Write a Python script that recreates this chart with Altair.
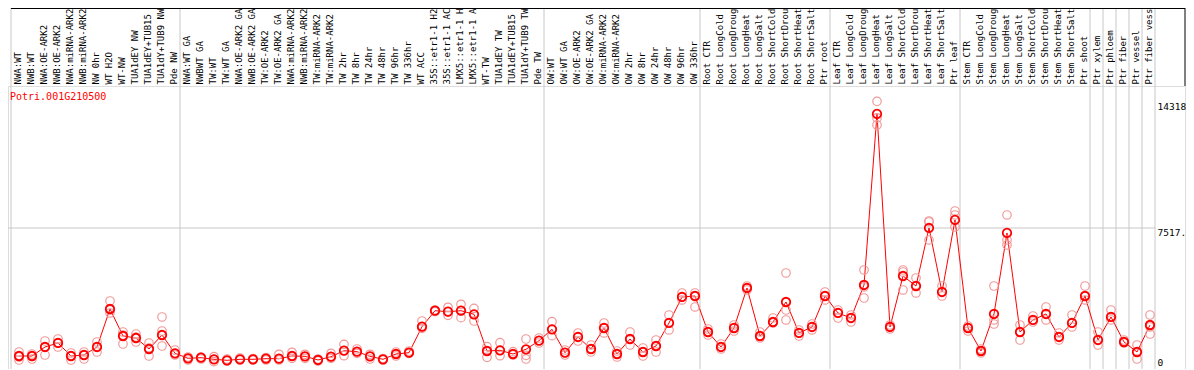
import altair as alt
import pandas as pd

gene_id = "Potri.001G210500"

categories = [
    "NWA:WT", "NWB:WT", "NWA:OE-ARK2", "NWB:OE-ARK2", "NWA:miRNA-ARK2", "NWB:miRNA-ARK2",
    "NW 0hr", "WT H2O", "WT-NW", "TUA1dEY NW", "TUA1dEY+TUB15 NW", "TUA1dY+TUB9 NW", "Pde NW",
    "NWA:WT GA", "NWBWT GA", "TW:WT", "TW:WT GA", "NWA:OE-ARK2 GA", "NWB:OE-ARK2 GA",
    "TW:OE-ARK2", "TW:OE-ARK2 GA", "NWA:miRNA-ARK2", "NWB:miRNA-ARK2", "TW:miRNA-ARK2",
    "TW:miRNA-ARK2", "TW 2hr", "TW 8hr", "TW 24hr", "TW 48hr", "TW 96hr", "TW 336hr",
    "WT ACC", "35S::etr1-1 H2O", "35S::etr1-1 ACC", "LMX5::etr1-1 H2O", "LMX5::etr1-1 ACC",
    "WT-TW", "TUA1dEY TW", "TUA1dEY+TUB15 TW", "TUA1dY+TUB9 TW", "Pde TW",
    "OW:WT", "OW:WT GA", "OW:OE-ARK2", "OW:OE-ARK2 GA", "OW:miRNA-ARK2", "OW:miRNA-ARK2",
    "OW 2hr", "OW 8hr", "OW 24hr", "OW 48hr", "OW 96hr", "OW 336hr",
    "Root CTR", "Root LongCold", "Root LongDrought", "Root LongHeat", "Root LongSalt",
    "Root ShortCold", "Root ShortDrought", "Root ShortHeat", "Root ShortSalt", "Ptr root",
    "Leaf CTR", "Leaf LongCold", "Leaf LongDrought", "Leaf LongHeat", "Leaf LongSalt",
    "Leaf ShortCold", "Leaf ShortDrought", "Leaf ShortHeat", "Leaf ShortSalt", "Ptr leaf",
    "Stem CTR", "Stem LongCold", "Stem LongDrought", "Stem LongHeat", "Stem LongSalt",
    "Stem ShortCold", "Stem ShortDrought", "Stem ShortHeat", "Stem ShortSalt", "Ptr shoot",
    "Ptr xylem", "Ptr phloem", "Ptr fiber", "Ptr vessel", "Ptr fiber vessel",
]

mean_values = [
    644, 644, 1128, 1343, 644, 698, 1128, 3168, 1718, 1611, 1020, 1772,
    789, 521, 553, 467, 413, 467, 467, 499, 499, 644, 628, 430, 607, 929, 875, 628,
    467, 752, 821, 2217, 3076, 3023, 3076, 2883, 913, 950, 752, 1004, 1466, 2078, 821,
    1665, 1020, 2148, 752, 1557, 859, 1181, 2417, 3813, 3866,
    1933, 1128, 2148, 4296, 1718, 2470, 3544, 1880, 2202, 3866,
    2954, 2685, 4457, 13640, 2202, 4940, 4403, 7518, 4081, 7948,
    2148, 913, 2900, 7250, 1933, 2578, 2900, 1665, 2417, 3866,
    1504, 2739, 1396, 859, 2309,
]

rep1_values = [
    859, 752, 1450, 1557, 806, 859, 1396, 3598, 1933, 1826, 1343, 2739,
    966, 591, 591, 607, 483, 537, 510, 564, 736, 843, 736, 483, 789, 1272, 1020, 736,
    510, 859, 913, 2523, 3114, 3259, 3420, 3205, 1144, 1358, 875, 1557, 1611, 2486, 966,
    1880, 1235, 2417, 913, 1933, 1074, 1504, 2846, 4028, 4028,
    2094, 1289, 2309, 4403, 1933, 2685, 5102, 2041, 2363, 4081,
    3114, 2846, 5263, 14318, 2309, 5263, 4833, 7894, 4403, 8431,
    2255, 1020, 4403, 8216, 2309, 2792, 3276, 1880, 2846, 4403,
    1933, 3114, 1504, 1235, 2846,
]

rep2_values = [
    430, 483, 698, 1128, 430, 483, 859, 2954, 1289, 1396, 644, 1987,
    698, 430, 483, 338, 376, 430, 430, 430, 430, 521, 521, 376, 521, 660, 789, 483,
    430, 644, 789, 2131, 3023, 2829, 2701, 2523, 574, 660, 698, 682, 1342, 1734, 698,
    1450, 859, 1880, 591, 1235, 644, 859, 2041, 3652, 3276,
    1772, 1020, 1987, 4189, 1611, 2417, 2578, 1718, 2041, 3652,
    2685, 2470, 3759, 13425, 2094, 4189, 4028, 7840, 3866, 8216,
    1987, 806, 2363, 6874, 1504, 2470, 2578, 1504, 2202, 3652,
    1235, 2578, 1343, 483, 1826,
]

rep3_values = [
    591, 644, 1128, 1343, 644, 698, 1128, 3114, 1772, 1665, 1074, 1181,
    789, 521, 553, 467, 413, 467, 467, 499, 499, 644, 628, 430, 607, 929, 875, 628,
    467, 752, 821, 2217, 3076, 3023, 3076, 2883, 913, 950, 752, 483, 1466, 2078, 821,
    1665, 1020, 2148, 752, 1557, 859, 1181, 2417, 3813, 3866,
    1933, 1128, 2148, 4296, 1718, 2470, 3114, 1880, 2202, 3866,
    2954, 2685, 4350, 13049, 2202, 5155, 4403, 6874, 4081, 7572,
    2148, 913, 2578, 6605, 1933, 2578, 2900, 1665, 2417, 3866,
    1504, 2739, 1396, 859, 2202,
]

group_starts = [0, 13, 41, 53, 63, 73, 83, 84, 85, 86, 87]
y_tick_values = [0, 7517, 14318]
y_tick_labels = ["0", "7517.", "14318"]
y_grid_values = [7517]

n = len(categories)
idx = list(range(n))
means_df = pd.DataFrame({"idx": idx, "value": mean_values})
reps_df = pd.DataFrame({
    "idx": idx * 3,
    "value": rep1_values + rep2_values + rep3_values,
})
sep_df = pd.DataFrame({"idx": group_starts})
end_df = pd.DataFrame({"idx": [n - 1]})
grid_df = pd.DataFrame({"value": y_grid_values})
title_df = pd.DataFrame({"t": [gene_id]})

W, H = 1177, 283
TOP = 78
FONT = "DejaVu Sans Mono"

label_expr = "[" + ",".join("'" + c + "'" for c in categories) + "][datum.value]"
ylab_expr = "{" + ",".join("'%s':'%s'" % (v, l) for v, l in zip(y_tick_values, y_tick_labels)) + "}[datum.value]"

xscale = alt.Scale(domain=idx, range=[3, 3 + 13 * n], paddingInner=0, paddingOuter=0)
yscale = alt.Scale(domain=[-54, 15141], nice=False, zero=False)

x_axis = alt.Axis(
    orient="top", labelAngle=-90, labelExpr=label_expr, labelFont=FONT, labelFontSize=9,
    labelColor="black", labelPadding=2, ticks=False, domain=False, grid=False,
    labelOverlap=False, labelLimit=400, bandPosition=8 / 13, title=None,
)
y_axis = alt.Axis(
    orient="right", offset=-30, values=y_tick_values, labelExpr=ylab_expr,
    labelFont=FONT, labelFontSize=9.5, labelColor="black", labelPadding=2,
    ticks=False, tickSize=0, domain=False, grid=False, title=None,
    labelBaseline={"condition": {"test": "datum.value == 0", "value": "bottom"}, "value": "top"},
)

X = alt.X("idx:O", scale=xscale, axis=x_axis, bandPosition=8 / 13)
Y = alt.Y("value:Q", scale=yscale, axis=y_axis)

seps = alt.Chart(sep_df).mark_rule(color="#c8c8c8", strokeWidth=1).encode(
    x=alt.X("idx:O", scale=xscale, axis=x_axis, bandPosition=0),
    y=alt.value(-TOP), y2=alt.value(H),
)
end_sep = alt.Chart(end_df).mark_rule(color="#c8c8c8", strokeWidth=1).encode(
    x=alt.X("idx:O", scale=xscale, axis=x_axis, bandPosition=1),
    y=alt.value(-TOP), y2=alt.value(H),
)
hgrid = alt.Chart(grid_df).mark_rule(color="#c8c8c8", strokeWidth=1).encode(
    y=Y, x=alt.value(0), x2=alt.value(3 + 13 * n),
)
top_border = alt.Chart(title_df).mark_rule(color="black", strokeWidth=1).encode(
    x=alt.value(3), x2=alt.value(W), y=alt.value(-TOP + 0.5),
)
right_border = alt.Chart(title_df).mark_rule(color="black", strokeWidth=1).encode(
    x=alt.value(W), y=alt.value(-TOP), y2=alt.value(0),
)

line = alt.Chart(means_df).mark_line(color="red", strokeWidth=1).encode(x=X, y=Y)
reps = alt.Chart(reps_df).mark_point(
    shape="circle", filled=False, color="#f09a9a", size=72, strokeWidth=1.2, opacity=1
).encode(x=X, y=Y)
means = alt.Chart(means_df).mark_point(
    shape="circle", filled=False, color="red", size=72, strokeWidth=1.8, opacity=1
).encode(x=X, y=Y)
title = alt.Chart(title_df).mark_text(
    align="left", baseline="middle", font=FONT, fontSize=10, color="red"
).encode(x=alt.value(2), y=alt.value(11), text="t:N")

chart = alt.layer(
    seps, end_sep, hgrid, top_border, right_border, line, reps, means, title
).properties(
    width=W, height=H,
    autosize=alt.AutoSizeParams(type="none"),
    padding={"left": 0, "top": TOP, "right": 1, "bottom": 0},
).configure_view(
    stroke="black", strokeWidth=1
).configure(background="white")

chart.save("out.html", embed_options={"renderer": "svg", "actions": False})
